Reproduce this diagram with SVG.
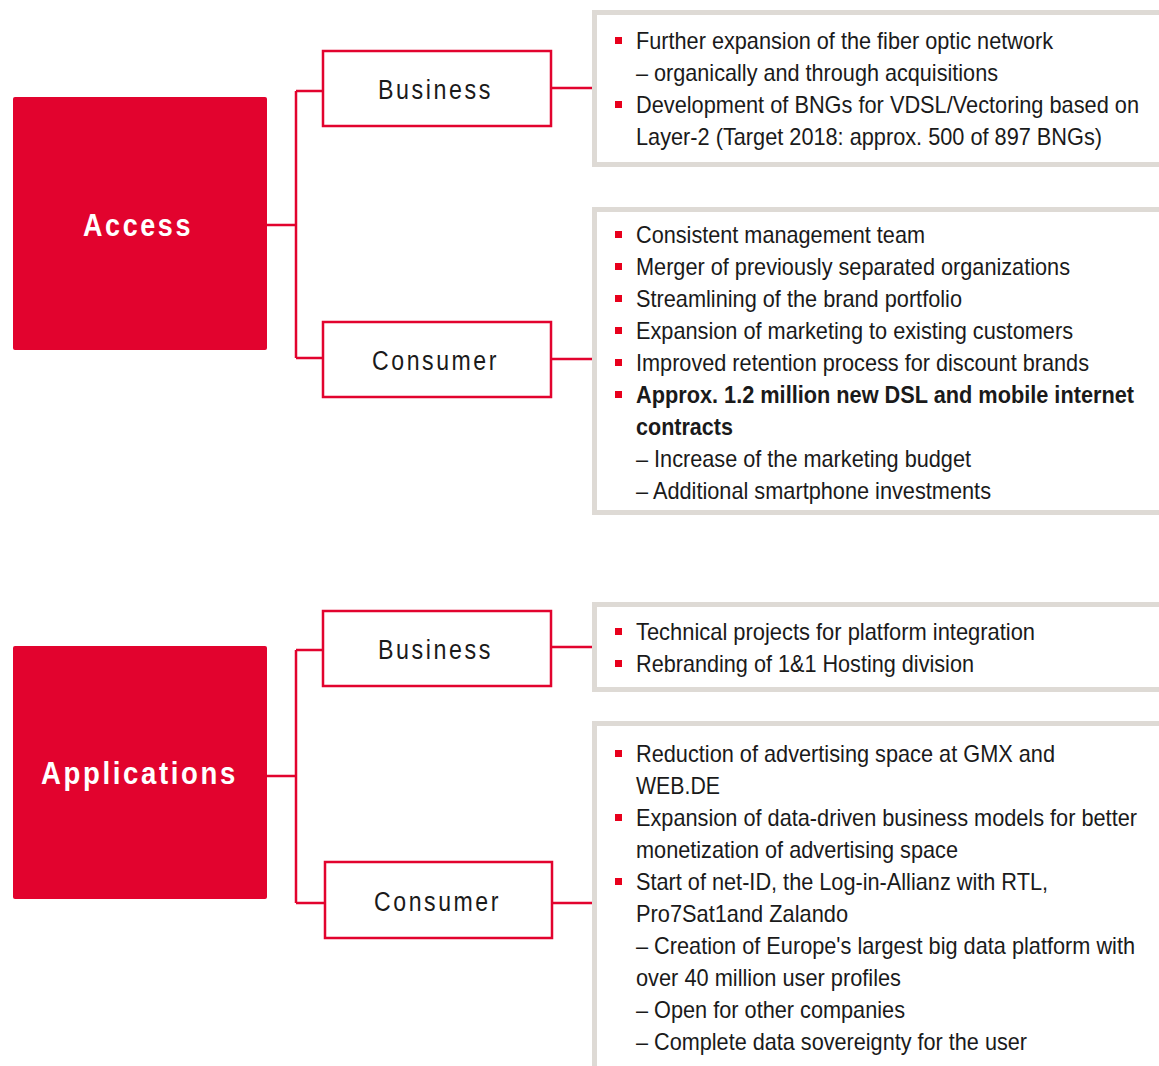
<svg xmlns="http://www.w3.org/2000/svg" width="1159" height="1066" viewBox="0 0 1159 1066">
<style>
.main{fill:#e2032e;}
.mlabel{font-family:"Liberation Sans Narrow","Liberation Sans",Arial,sans-serif;font-size:31px;font-weight:bold;fill:#ffffff;letter-spacing:3px;}
.sub{fill:#ffffff;stroke:#e2032e;stroke-width:2.5;}
.slabel{font-family:"Liberation Sans Narrow","Liberation Sans",Arial,sans-serif;font-size:27px;fill:#1a1a1a;letter-spacing:3px;}
.pfill{fill:#ffffff;}
.pborder{fill:none;stroke:#dedad5;stroke-width:5;}
.t{font-family:"Liberation Sans Narrow","Liberation Sans",Arial,sans-serif;font-size:24px;fill:#1a1a1a;}
.b{font-weight:bold;}
.bul{fill:#e8001c;}
.conn{fill:none;stroke:#e2032e;stroke-width:2.5;}
</style>
<g id="connectors">
<path class="conn" d="M267 225H296M296 91V358M296 91H323M296 358H323M551 88H592M551 359H592"/>
<path class="conn" d="M267 776H296M296 650V903M296 650H323M296 903H325M551 647H592M552 903H592"/>
</g>
<g id="access">
<rect class="main" x="13" y="97" width="254" height="253" rx="2"/>
<text class="mlabel" x="83" y="236" textLength="110" lengthAdjust="spacingAndGlyphs">Access</text>
</g>
<g id="access-business">
<rect class="sub" x="323" y="51" width="228" height="75"/>
<text class="slabel" x="378" y="99" textLength="115" lengthAdjust="spacingAndGlyphs">Business</text>
</g>
<g id="access-consumer">
<rect class="sub" x="323" y="322" width="228" height="75"/>
<text class="slabel" x="372" y="370" textLength="127" lengthAdjust="spacingAndGlyphs">Consumer</text>
</g>
<g id="applications">
<rect class="main" x="13" y="646" width="254" height="253" rx="2"/>
<text class="mlabel" x="41" y="784" textLength="197" lengthAdjust="spacingAndGlyphs">Applications</text>
</g>
<g id="applications-business">
<rect class="sub" x="323" y="611" width="228" height="75"/>
<text class="slabel" x="378" y="659" textLength="115" lengthAdjust="spacingAndGlyphs">Business</text>
</g>
<g id="applications-consumer">
<rect class="sub" x="325" y="862" width="227" height="76"/>
<text class="slabel" x="374" y="911" textLength="127" lengthAdjust="spacingAndGlyphs">Consumer</text>
</g>
<g id="panel-access-business">
<rect class="pfill" x="594.5" y="12.5" width="564.5" height="152"/>
<path class="pborder" d="M1159 12.5H594.5V164.5H1159"/>
<rect class="bul" x="615" y="37" width="7" height="7"/>
<rect class="bul" x="615" y="101" width="7" height="7"/>
<text class="t" x="636" y="49" textLength="417" lengthAdjust="spacingAndGlyphs">Further expansion of the fiber optic network</text>
<text class="t" x="636" y="81" textLength="362" lengthAdjust="spacingAndGlyphs">– organically and through acquisitions</text>
<text class="t" x="636" y="113" textLength="503" lengthAdjust="spacingAndGlyphs">Development of BNGs for VDSL/Vectoring based on</text>
<text class="t" x="636" y="145" textLength="466" lengthAdjust="spacingAndGlyphs">Layer-2 (Target 2018: approx. 500 of 897 BNGs)</text>
</g>
<g id="panel-access-consumer">
<rect class="pfill" x="594.5" y="209.5" width="564.5" height="303"/>
<path class="pborder" d="M1159 209.5H594.5V512.5H1159"/>
<rect class="bul" x="615" y="231" width="7" height="7"/>
<rect class="bul" x="615" y="263" width="7" height="7"/>
<rect class="bul" x="615" y="295" width="7" height="7"/>
<rect class="bul" x="615" y="327" width="7" height="7"/>
<rect class="bul" x="615" y="359" width="7" height="7"/>
<rect class="bul" x="615" y="391" width="7" height="7"/>
<text class="t" x="636" y="243" textLength="289" lengthAdjust="spacingAndGlyphs">Consistent management team</text>
<text class="t" x="636" y="275" textLength="434" lengthAdjust="spacingAndGlyphs">Merger of previously separated organizations</text>
<text class="t" x="636" y="307" textLength="326" lengthAdjust="spacingAndGlyphs">Streamlining of the brand portfolio</text>
<text class="t" x="636" y="339" textLength="437" lengthAdjust="spacingAndGlyphs">Expansion of marketing to existing customers</text>
<text class="t" x="636" y="371" textLength="453" lengthAdjust="spacingAndGlyphs">Improved retention process for discount brands</text>
<text class="t b" x="636" y="403" textLength="498" lengthAdjust="spacingAndGlyphs">Approx. 1.2 million new DSL and mobile internet</text>
<text class="t b" x="636" y="435" textLength="97" lengthAdjust="spacingAndGlyphs">contracts</text>
<text class="t" x="636" y="467" textLength="335" lengthAdjust="spacingAndGlyphs">– Increase of the marketing budget</text>
<text class="t" x="636" y="499" textLength="355" lengthAdjust="spacingAndGlyphs">– Additional smartphone investments</text>
</g>
<g id="panel-applications-business">
<rect class="pfill" x="594.5" y="604.5" width="564.5" height="85"/>
<path class="pborder" d="M1159 604.5H594.5V689.5H1159"/>
<rect class="bul" x="615" y="628" width="7" height="7"/>
<rect class="bul" x="615" y="660" width="7" height="7"/>
<text class="t" x="636" y="640" textLength="399" lengthAdjust="spacingAndGlyphs">Technical projects for platform integration</text>
<text class="t" x="636" y="672" textLength="338" lengthAdjust="spacingAndGlyphs">Rebranding of 1&amp;1 Hosting division</text>
</g>
<g id="panel-applications-consumer">
<rect class="pfill" x="594.5" y="723.5" width="564.5" height="342.5"/>
<path class="pborder" d="M1159 723.5H594.5V1066"/>
<rect class="bul" x="615" y="750" width="7" height="7"/>
<rect class="bul" x="615" y="814" width="7" height="7"/>
<rect class="bul" x="615" y="878" width="7" height="7"/>
<text class="t" x="636" y="762" textLength="419" lengthAdjust="spacingAndGlyphs">Reduction of advertising space at GMX and</text>
<text class="t" x="636" y="794" textLength="84" lengthAdjust="spacingAndGlyphs">WEB.DE</text>
<text class="t" x="636" y="826" textLength="501" lengthAdjust="spacingAndGlyphs">Expansion of data-driven business models for better</text>
<text class="t" x="636" y="858" textLength="322" lengthAdjust="spacingAndGlyphs">monetization of advertising space</text>
<text class="t" x="636" y="890" textLength="412" lengthAdjust="spacingAndGlyphs">Start of net-ID, the Log-in-Allianz with RTL,</text>
<text class="t" x="636" y="922" textLength="212" lengthAdjust="spacingAndGlyphs">Pro7Sat1and Zalando</text>
<text class="t" x="636" y="954" textLength="499" lengthAdjust="spacingAndGlyphs">– Creation of Europe's largest big data platform with</text>
<text class="t" x="636" y="986" textLength="265" lengthAdjust="spacingAndGlyphs">over 40 million user profiles</text>
<text class="t" x="636" y="1018" textLength="269" lengthAdjust="spacingAndGlyphs">– Open for other companies</text>
<text class="t" x="636" y="1050" textLength="391" lengthAdjust="spacingAndGlyphs">– Complete data sovereignty for the user</text>
</g>
</svg>
